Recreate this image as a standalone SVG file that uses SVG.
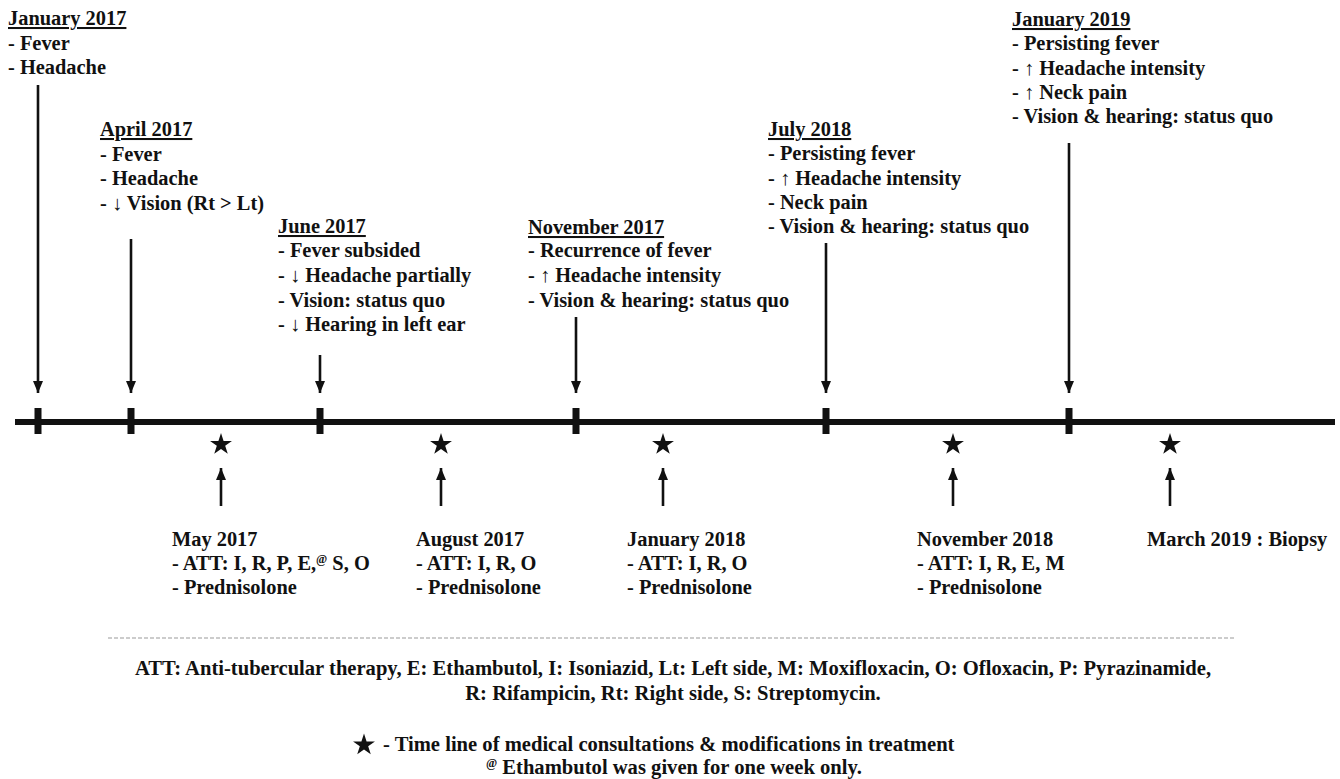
<svg xmlns="http://www.w3.org/2000/svg" xmlns:xlink="http://www.w3.org/1999/xlink" width="1340" height="779" viewBox="0 0 1340 779">
<style>
text{font-family:"Liberation Serif","Times New Roman",serif;font-weight:bold;font-size:20.4px;fill:#111}
.h{text-decoration:underline}
.sup{font-size:12px}
.ft{font-size:20.6px}
.ar{stroke:#111;stroke-width:2.6;fill:none}
</style>
<defs>
<marker id="ah" markerUnits="userSpaceOnUse" viewBox="0 0 12 10" markerWidth="12" markerHeight="10" refX="12" refY="5" orient="auto">
<path d="M0,0 L12,5 L0,10 z" fill="#111"/>
</marker>
<path id="star" d="M0,-11.5 L2.59,-3.56 L10.94,-3.55 L4.18,1.36 L6.76,9.3 L0,4.4 L-6.76,9.3 L-4.18,1.36 L-10.94,-3.55 L-2.59,-3.56 Z" fill="#111"/>
</defs>
<rect width="1340" height="779" fill="#fff"/>

<g id="timeline">
<rect x="15" y="419" width="1320" height="6" fill="#111"/>
<rect x="34.5" y="408" width="7" height="26" fill="#111"/>
<rect x="127.5" y="408" width="7" height="26" fill="#111"/>
<rect x="316.5" y="408" width="7" height="26" fill="#111"/>
<rect x="572.5" y="408" width="7" height="26" fill="#111"/>
<rect x="822.5" y="408" width="7" height="26" fill="#111"/>
<rect x="1065.5" y="408" width="7" height="26" fill="#111"/>
</g>

<g id="connectors">
<line class="ar" x1="38" y1="85" x2="38" y2="393" marker-end="url(#ah)"/>
<line class="ar" x1="131" y1="239" x2="131" y2="393" marker-end="url(#ah)"/>
<line class="ar" x1="320" y1="355" x2="320" y2="393" marker-end="url(#ah)"/>
<line class="ar" x1="576" y1="317" x2="576" y2="393" marker-end="url(#ah)"/>
<line class="ar" x1="826" y1="243" x2="826" y2="393" marker-end="url(#ah)"/>
<line class="ar" x1="1069" y1="143" x2="1069" y2="393" marker-end="url(#ah)"/>
<line class="ar" x1="221" y1="506" x2="221" y2="468" marker-end="url(#ah)"/>
<line class="ar" x1="441" y1="506" x2="441" y2="468" marker-end="url(#ah)"/>
<line class="ar" x1="663" y1="506" x2="663" y2="468" marker-end="url(#ah)"/>
<line class="ar" x1="953" y1="506" x2="953" y2="468" marker-end="url(#ah)"/>
<line class="ar" x1="1170" y1="506" x2="1170" y2="468" marker-end="url(#ah)"/>
</g>

<g id="stars">
<use xlink:href="#star" x="221" y="444.5"/>
<use xlink:href="#star" x="441" y="444.5"/>
<use xlink:href="#star" x="663" y="444.5"/>
<use xlink:href="#star" x="953" y="444.5"/>
<use xlink:href="#star" x="1170" y="444.5"/>
</g>

<g id="jan2017">
<text x="8" y="25" class="h">January 2017</text>
<text x="8" y="50">- Fever</text>
<text x="8" y="74">- Headache</text>
</g>

<g id="apr2017">
<text x="100" y="136" class="h">April 2017</text>
<text x="100" y="161">- Fever</text>
<text x="100" y="185">- Headache</text>
<text x="100" y="210">- ↓ Vision (Rt &gt; Lt)</text>
</g>

<g id="jun2017">
<text x="278" y="233" class="h">June 2017</text>
<text x="278" y="257">- Fever subsided</text>
<text x="278" y="282">- ↓ Headache partially</text>
<text x="278" y="307">- Vision: status quo</text>
<text x="278" y="331">- ↓ Hearing in left ear</text>
</g>

<g id="nov2017">
<text x="528" y="234" class="h">November 2017</text>
<text x="528" y="257">- Recurrence of fever</text>
<text x="528" y="282">- ↑ Headache intensity</text>
<text x="528" y="307">- Vision &amp; hearing: status quo</text>
</g>

<g id="jul2018">
<text x="768" y="136" class="h">July 2018</text>
<text x="768" y="160">- Persisting fever</text>
<text x="768" y="185">- ↑ Headache intensity</text>
<text x="768" y="209">- Neck pain</text>
<text x="768" y="233">- Vision &amp; hearing: status quo</text>
</g>

<g id="jan2019">
<text x="1012" y="26" class="h">January 2019</text>
<text x="1012" y="50">- Persisting fever</text>
<text x="1012" y="75">- ↑ Headache intensity</text>
<text x="1012" y="99">- ↑ Neck pain</text>
<text x="1012" y="123">- Vision &amp; hearing: status quo</text>
</g>

<g id="may2017">
<text x="172" y="546">May 2017</text>
<text x="172" y="570">- ATT: I, R, P, E,<tspan class="sup" dy="-7">@</tspan><tspan dy="7"> S, O</tspan></text>
<text x="172" y="594">- Prednisolone</text>
</g>

<g id="aug2017">
<text x="416" y="546">August 2017</text>
<text x="416" y="570">- ATT: I, R, O</text>
<text x="416" y="594">- Prednisolone</text>
</g>

<g id="jan2018">
<text x="627" y="546">January 2018</text>
<text x="627" y="570">- ATT: I, R, O</text>
<text x="627" y="594">- Prednisolone</text>
</g>

<g id="nov2018">
<text x="917" y="546">November 2018</text>
<text x="917" y="570">- ATT: I, R, E, M</text>
<text x="917" y="594">- Prednisolone</text>
</g>

<g id="mar2019">
<text x="1147" y="546">March 2019 : Biopsy</text>
</g>

<g id="footer">
<line x1="108" y1="638" x2="1234" y2="638" stroke="#999" stroke-width="1" stroke-dasharray="4 2"/>
<text x="673" y="675" text-anchor="middle" class="ft">ATT: Anti-tubercular therapy, E: Ethambutol, I: Isoniazid, Lt: Left side, M: Moxifloxacin, O: Ofloxacin, P: Pyrazinamide,</text>
<text x="673" y="700" text-anchor="middle" class="ft">R: Rifampicin, Rt: Right side, S: Streptomycin.</text>
<use xlink:href="#star" x="364" y="745"/>
<text x="383" y="751" class="ft">-  Time line of medical consultations &amp; modifications in treatment</text>
<text x="486" y="774" class="ft"><tspan class="sup" dy="-7">@</tspan><tspan dy="7"> Ethambutol was given for one week only.</tspan></text>
</g>
</svg>
